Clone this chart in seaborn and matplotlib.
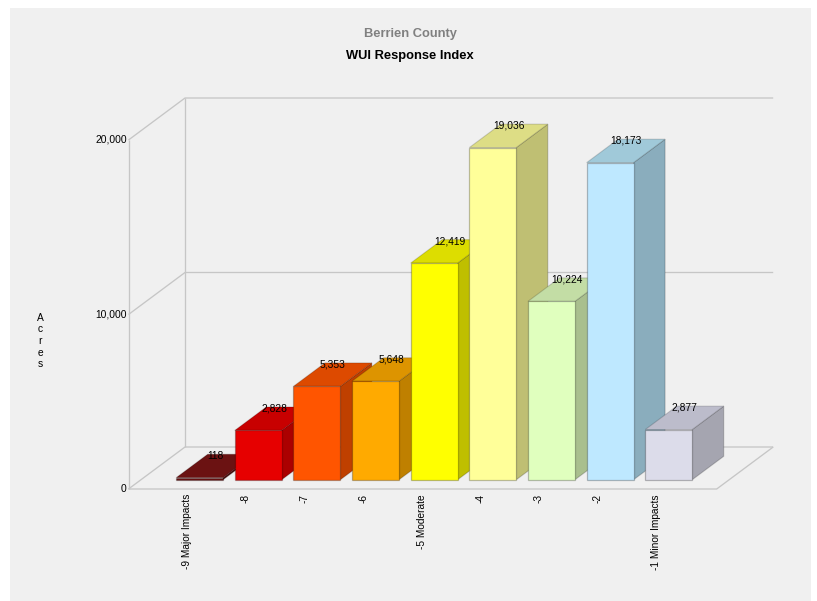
import matplotlib
matplotlib.use("Agg")
import matplotlib.pyplot as plt
from matplotlib.patches import Polygon, Rectangle
from matplotlib.transforms import ScaledTranslation
import pandas as pd
import seaborn as sns

# Acres per response-index class
categories = ["-9 Major Impacts", "-8", "-7", "-6", "-5 Moderate", "-4", "-3", "-2", "-1 Minor Impacts"]
acres = [118, 2828, 5353, 5648, 12419, 19036, 10224, 18173, 2877]
front_colors = ["#6b1212", "#e60000", "#ff5500", "#ffaa00", "#ffff00", "#ffff99", "#e0ffbe", "#bee8ff", "#dcdcea"]
top_colors = ["#6b1212", "#c80000", "#dd4a00", "#dd9400", "#dddd00", "#dddd85", "#c3dda5", "#a0c9d9", "#bcbccb"]
side_colors = ["#4f0d0d", "#ab0000", "#bf4000", "#bf8000", "#bfbf00", "#bfbf73", "#a9bf8e", "#8aadbd", "#a5a5b0"]
y_ticks = [0, 10000, 20000]
y_tick_labels = ["0", "10,000", "20,000"]

W, H = 817, 601
sns.set_theme(style="white")
plt.rcParams["font.family"] = ["Liberation Sans", "DejaVu Sans"]

fig = plt.figure(figsize=(W / 100, H / 100), dpi=100, facecolor="white")
fig.add_artist(Rectangle((9.5 / W, 0), 801.5 / W, 593.5 / H, transform=fig.transFigure,
                         facecolor="#f0f0f0", edgecolor="none", zorder=-10))

# The axes rectangle is the front plane of the box
left, right, bottom, top = 128.5, 716.7, 489, 140
ax = fig.add_axes([left / W, 1 - bottom / H, (right - left) / W, (bottom - top) / H])
ax.patch.set_alpha(0)

df = pd.DataFrame({"category": categories, "acres": acres})
sns.barplot(data=df, x="category", y="acres", hue="category", order=categories,
            hue_order=categories, palette=front_colors, saturation=1, width=0.8,
            dodge=False, legend=False, ax=ax)
ax.set_xlim(-1.0, 9.03)
ax.set_ylim(0, 20000)

PX_X = (right - left) / 10.03
PX_Y = (bottom - top) / 20000
DEPTH_X = 56.5 / PX_X
DEPTH_Y = 42 / PX_Y
BAR_NEAR = 0.22
BAR_FAR = 0.778


def project(x, y, depth):
    """Shift a point of the front plane back into the box."""
    return x + depth * DEPTH_X, y + depth * DEPTH_Y


# Box outline and gridlines
wall = dict(color="#c6c6c6", lw=0.95, zorder=1, clip_on=False, solid_capstyle="butt")
x0, x1 = ax.get_xlim()
ax.plot([x0, x0], [0, 20000], **wall)
bx, by0 = project(x0, 0, 1)
_, by1 = project(x0, 20000, 1)
ax.plot([bx, bx], [by0, by1], **wall)
for tick in y_ticks:
    p_front = project(x0, tick, 0)
    p_back = project(x0, tick, 1)
    p_right = project(x1, tick, 1)
    ax.plot([p_front[0], p_back[0], p_right[0]], [p_front[1], p_back[1], p_right[1]], **wall)
floor_a, floor_b = project(x1, 0, 0), project(x1, 0, 1)
ax.plot([x0, floor_a[0], floor_b[0]], [0, floor_a[1], floor_b[1]], **wall)

# Extrude each bar from the front face seaborn drew; painted left to right
for i, (patch, value) in enumerate(zip(ax.patches, acres)):
    xa = patch.get_x()
    w = patch.get_width()
    order = 3 + i
    side = [project(xa + w, 0, BAR_NEAR), project(xa + w, value, BAR_NEAR),
            project(xa + w, value, BAR_FAR), project(xa + w, 0, BAR_FAR)]
    cap = [project(xa, value, BAR_NEAR), project(xa + w, value, BAR_NEAR),
           project(xa + w, value, BAR_FAR), project(xa, value, BAR_FAR)]
    ax.add_patch(Polygon(side, closed=True, facecolor=side_colors[i], edgecolor="#00000030",
                         lw=0.8, zorder=order, clip_on=False))
    ax.add_patch(Polygon(cap, closed=True, facecolor=top_colors[i], edgecolor="#00000028",
                         lw=0.8, zorder=order, clip_on=False))
    px, py = project(xa, 0, BAR_NEAR)
    patch.set_x(px)
    patch.set_y(py)
    patch.set_edgecolor("#00000040")
    patch.set_linewidth(0.9)
    patch.set_zorder(order + 0.5)
    patch.set_clip_on(False)
    lx, _ = project(xa + w / 2, value, (BAR_NEAR + BAR_FAR) / 2)
    _, back_y = project(xa, value, BAR_FAR)
    ax.text(lx, back_y - 1.5 / PX_Y, f"{value:,}", ha="center", va="center",
            fontsize=7.4, color="black", zorder=30, clip_on=False)

sns.despine(ax=ax, left=True, bottom=True)
ax.set_xlabel("")
ax.set_xticks(range(len(categories)))
ax.set_xticklabels(categories, rotation=90, fontsize=7.3, color="black", ha="center", va="top")
ax.set_yticks(y_ticks)
ax.set_yticklabels(y_tick_labels, fontsize=7.4, color="black")
ax.tick_params(axis="x", length=0, pad=3.6)
ax.tick_params(axis="y", length=0, pad=1.2)
# Nudge the value-axis labels up a pixel so they sit centred on the box corners
nudge = ScaledTranslation(0, 1 / 100, fig.dpi_scale_trans)
for label in ax.get_yticklabels():
    label.set_transform(label.get_transform() + nudge)
ax.set_ylabel("A\nc\nr\ne\ns", rotation=0, fontsize=7.4, color="black", ha="center", va="center", linespacing=1.2)
ax.yaxis.set_label_coords((40 - left) / (right - left), (bottom - 341) / (bottom - top))

fig.text(410 / W, 1 - 34 / H, "Berrien County", ha="center", va="center",
         fontsize=9.3, fontweight="bold", color="#808080")
fig.text(410 / W, 1 - 56 / H, "WUI Response Index", ha="center", va="center",
         fontsize=9.3, fontweight="bold", color="black")

fig.savefig("out.png", dpi=100, facecolor="white")
